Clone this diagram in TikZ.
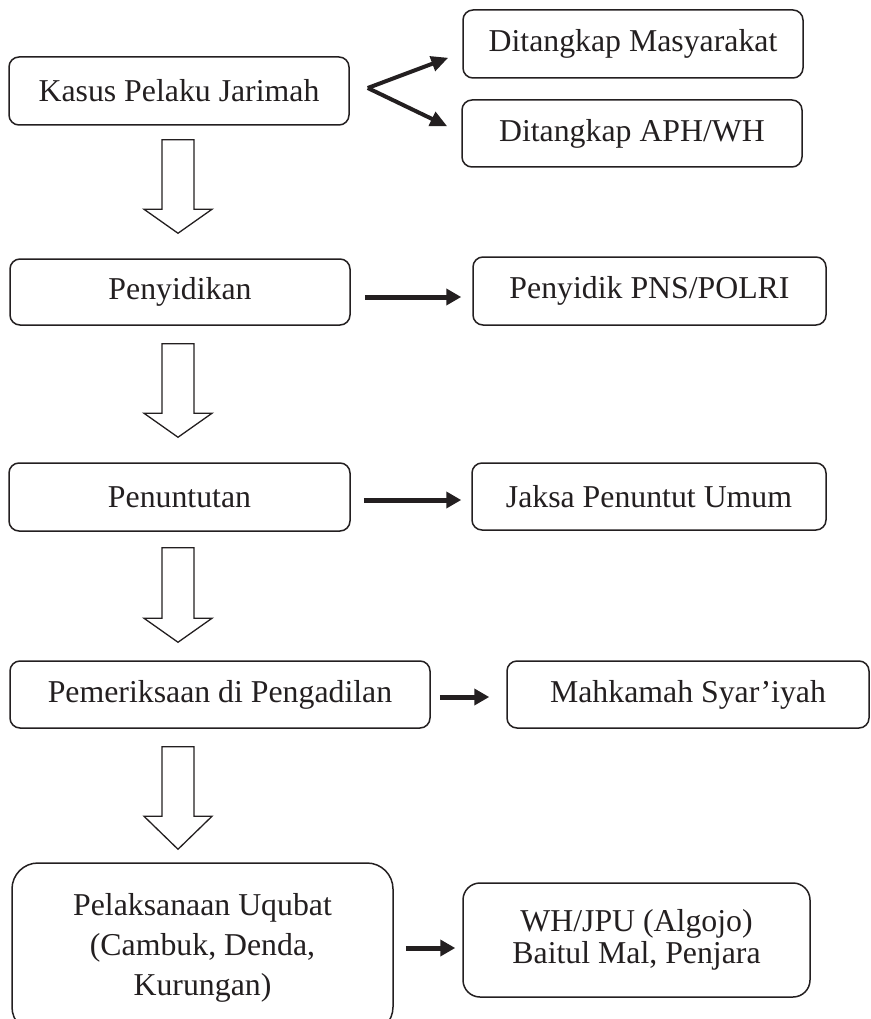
\documentclass[tikz,border=0pt]{standalone}
\usepackage{fontspec}
\setmainfont{Liberation Serif}
\usetikzlibrary{calc, positioning, arrows.meta}
\definecolor{ink}{HTML}{231F20}

\begin{document}
\begin{tikzpicture}[x=1pt, y=1pt,
    box/.style={draw=ink, line width=1.5pt, rounded corners=10pt, text=ink, align=center,
      inner sep=0pt, font=\fontsize{31.8}{32}\selectfont},
    sidearrow/.style={draw=ink, line width=5pt, -{Triangle[length=15pt,width=16pt]}},
    forkarrow/.style={draw=ink, line width=4pt, -{Triangle[length=17pt,width=15pt]}},
    hollow/.style={draw=ink, line width=1.3pt, fill=white, line join=miter}]
  % Page frame
  \clip (0,0) rectangle (870,-1019);

  % Main steps (left column)
  \node[box, minimum width=340pt, minimum height=68pt] (kasus) at (179,-91) {Kasus Pelaku Jarimah};
  \node[box, minimum width=340pt, minimum height=66pt] (sidik) at (180,-292) {Penyidikan};
  \node[box, minimum width=341pt, minimum height=68pt] (tuntut) at (179.5,-497) {Penuntutan};
  \node[box, minimum width=420pt, minimum height=67pt] (periksa) at (220,-694.5) {Pemeriksaan di Pengadilan};
  \node[box, minimum width=381pt, minimum height=170pt, rounded corners=26pt,
        font=\fontsize{31.8}{40}\selectfont] (laksana) at (202.5,-948)
        {Pelaksanaan Uqubat\\(Cambuk, Denda,\\Kurungan)};

  % Actors (right column)
  \node[box, minimum width=340pt, minimum height=68pt] (masy) at (633,-44) {Ditangkap Masyarakat};
  \node[box, minimum width=340pt, minimum height=67pt] (aph) at (632,-133.5) {Ditangkap APH/WH};
  \node[box, minimum width=353pt, minimum height=68pt] (polri) at (649.5,-291) {Penyidik PNS/POLRI};
  \node[box, minimum width=354pt, minimum height=67pt] (jaksa) at (649,-496.5) {Jaksa Penuntut Umum};
  \node[box, minimum width=362pt, minimum height=67pt] (mahkamah) at (688,-694.5) {Mahkamah Syar’iyah};
  \node[box, minimum width=347pt, minimum height=114pt, rounded corners=17pt,
        font=\fontsize{31.8}{32}\selectfont] (wh) at (636.5,-940)
        {WH/JPU (Algojo)\\Baitul Mal, Penjara};

  % Fork from the case to the two ways of arrest
  \coordinate (fork) at ($(kasus.east)+(18,3)$);
  \draw[forkarrow] (fork) -- ($(masy.south west)+(-14,21)$);
  \draw[forkarrow] (fork) -- ($(aph.north west)+(-14,-27)$);

  % Hollow block arrows between the steps
  \foreach \a/\b/\s/\t/\h in {kasus/sidik/14/25/24, sidik/tuntut/18/25/24,
                              tuntut/periksa/16/18/24, periksa/laksana/18/13/33} {
    \draw[hollow] let \p1=(\a.south), \p2=(\b.north) in
      (162pt,\y1-\s pt) -- (162pt,\y2+\t pt+\h pt) -- (144pt,\y2+\t pt+\h pt)
      -- (178pt,\y2+\t pt) -- (212pt,\y2+\t pt+\h pt) -- (194pt,\y2+\t pt+\h pt)
      -- (194pt,\y1-\s pt) -- cycle;
  }

  % Who carries out each step
  \draw[sidearrow] ([shift={(14,-5)}]sidik.east) -- ([shift={(-11,-6)}]polri.west);
  \draw[sidearrow] ([shift={(13,-3)}]tuntut.east) -- ([shift={(-10,-3.5)}]jaksa.west);
  \draw[sidearrow] ([shift={(9,-2.5)}]periksa.east) -- ([shift={(-17,-2.5)}]mahkamah.west);
  \draw[sidearrow] ([shift={(12,0)}]laksana.east) -- ([shift={(-7,-8)}]wh.west);
\end{tikzpicture}
\end{document}
